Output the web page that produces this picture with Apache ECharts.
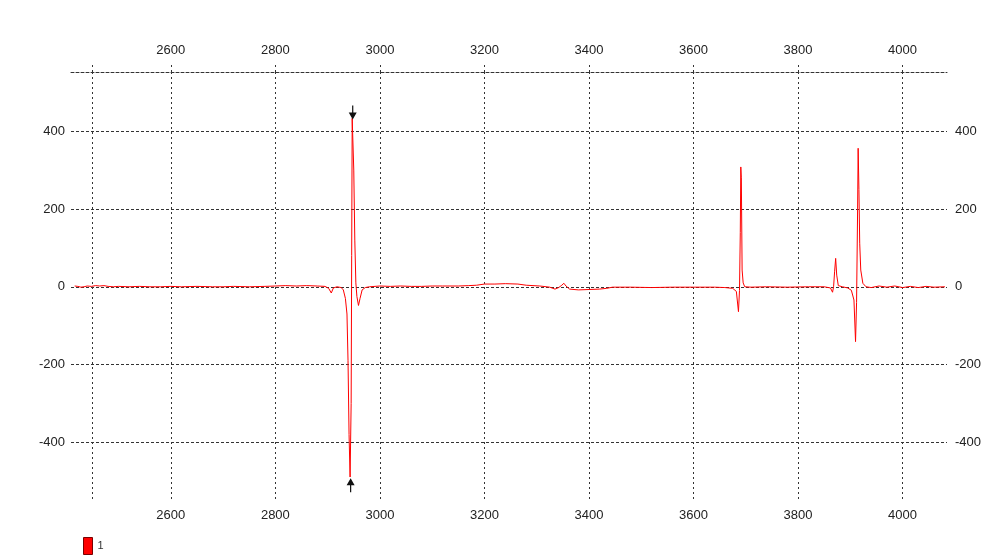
<!DOCTYPE html>
<html>
<head>
<meta charset="utf-8">
<script src="https://cdn.jsdelivr.net/npm/echarts@6/dist/echarts.min.js"></script>
<style>
html,body{margin:0;padding:0;background:#fff;}
#chart{width:985px;height:556px;}
</style>
</head>
<body>
<div id="chart"></div>
<script>
// ---- data ----
const wavenumber = [
  2416, 2422, 2428, 2434, 2440, 2448, 2456, 2464, 2472, 2480, 2490, 2500, 2520, 2540, 2560, 2580,
  2600, 2620, 2650, 2680, 2700, 2720, 2750, 2780, 2800, 2820, 2840, 2860, 2880, 2895, 2902, 2907,
  2911, 2918, 2926, 2930, 2934, 2937, 2939, 2941, 2943, 2945, 2946, 2947, 2948, 2950, 2952, 2954,
  2956, 2959, 2962, 2966, 2972, 2980, 3000, 3020, 3040, 3060, 3080, 3100, 3120, 3150, 3170, 3185,
  3200, 3220, 3240, 3264, 3280, 3306, 3325, 3335, 3342, 3348, 3352, 3356, 3363, 3380, 3400, 3420,
  3434, 3445, 3480, 3520, 3560, 3600, 3640, 3660, 3675, 3682, 3686, 3688, 3689.5, 3690.5, 3691.5, 3693,
  3695, 3698, 3710, 3740, 3780, 3820, 3850, 3862, 3866, 3868, 3870, 3872, 3874, 3877, 3885, 3895,
  3902, 3907, 3910, 3912, 3914, 3915, 3916.5, 3918, 3920, 3924, 3930, 3940, 3955, 3970, 3985, 4000,
  4015, 4030, 4045, 4060, 4081
];
const intensity = [
  2, 1, -1, 0, 2, 1, 3, 2, 3, 1, 0, 1, 0, 1, 0, 0,
  1, 0, 1, 0, 0, 1, 0, 1, 2, 3, 2, 3, 2, 1, -4, -16,
  -3, 0, -2, -8, -30, -70, -190, -380, -489, -300, 80, 433, 433, 300, 120, 10,
  -25, -48, -30, -8, -2, 0, 2, 1, 2, 1, 1, 2, 2, 2, 3, 4,
  7, 7, 8, 7, 4, 2, -1, -6, -2, 4, 9, 2, -6, -8, -7, -6,
  -4, -1, -1, -2, -1, -1, -1, -2, -4, -12, -64, -10, 140, 308, 280, 43,
  10, 0, -1, 0, -1, 0, 0, -3, -14, 0, 40, 73, 30, 3, 0, -3,
  -9, -34, -141, -40, 200, 356, 250, 112, 43, 9, 0, -2, 2, -1, 2, -2,
  1, -2, 1, -1, 0
];
const xTicks = [2600, 2800, 3000, 3200, 3400, 3600, 3800, 4000];
const cursorX = [2449];
const yTicks = [-400, -200, 0, 200, 400];
const seriesName = '1';
const topMarker = [2948, 430];
const bottomMarker = [2944, -492];

// ---- chart ----
const chart = echarts.init(document.getElementById('chart'), null, {renderer: 'canvas'});
const FONT = 'Liberation Sans, Arial, sans-serif';
const gridColor = '#333';
const labelColor = '#222';
const xLimits = {min: 2409, max: 4085};
const yLimits = {min: -548, max: 552};
const plain = v => String(v);

const points = wavenumber.map((w, i) => [w, intensity[i]]);
const vTicks = cursorX.concat(xTicks);

const downArrow = 'path://M3.4,0 H4.6 V7 H8 L4,14 L0,7 H3.4 Z';
const upArrow = 'path://M4,0 L8,7 H4.6 V14 H3.4 V7 H0 Z';

chart.setOption({
  animation: false,
  backgroundColor: '#fff',
  grid: {left: 71, right: 38, top: 72, bottom: 56, containLabel: false},
  legend: {
    left: 83, top: 537, padding: 0,
    icon: 'rect', itemWidth: 9, itemHeight: 17, itemGap: 10,
    itemStyle: {color: '#ff0000', borderColor: '#7a0000', borderWidth: 1},
    textStyle: {fontSize: 11, color: '#333', fontFamily: FONT},
    data: [seriesName]
  },
  xAxis: [
    {
      type: 'value', position: 'bottom', ...xLimits,
      axisLine: {show: false, onZero: false},
      axisTick: {show: false, customValues: vTicks},
      axisLabel: {customValues: xTicks, formatter: plain, margin: 9, color: labelColor, fontSize: 13, fontFamily: FONT},
      splitLine: {show: true, lineStyle: {color: gridColor, width: 1, type: [2, 3]}}
    },
    {
      type: 'value', position: 'top', ...xLimits,
      axisLine: {show: true, onZero: false, lineStyle: {color: gridColor, width: 1, type: [3, 2]}},
      axisTick: {show: true, inside: false, length: 9, customValues: vTicks,
                 lineStyle: {color: gridColor, width: 1, type: [2, 3]}},
      axisLabel: {customValues: xTicks, formatter: plain, margin: 15, color: labelColor, fontSize: 13, fontFamily: FONT},
      splitLine: {show: false}
    }
  ],
  yAxis: [
    {
      type: 'value', position: 'left', ...yLimits,
      axisLine: {show: false, onZero: false},
      axisTick: {show: false, customValues: yTicks},
      axisLabel: {customValues: yTicks, formatter: plain, margin: 6, color: labelColor, fontSize: 13, fontFamily: FONT},
      splitLine: {show: true, lineStyle: {color: gridColor, width: 1, type: [3, 2]}}
    },
    {
      type: 'value', position: 'right', ...yLimits,
      axisLine: {show: false, onZero: false},
      axisTick: {show: false, customValues: yTicks},
      axisLabel: {customValues: yTicks, formatter: plain, margin: 8, color: labelColor, fontSize: 13, fontFamily: FONT},
      splitLine: {show: false}
    }
  ],
  series: [{
    name: seriesName,
    type: 'line',
    xAxisIndex: 0, yAxisIndex: 0,
    data: points,
    showSymbol: false,
    symbol: 'none',
    color: '#ff0000',
    lineStyle: {color: '#ff0000', width: 1},
    itemStyle: {color: '#ff0000'},
    z: 3,
    markPoint: {
      silent: true,
      label: {show: false},
      itemStyle: {color: '#111'},
      data: [
        {coord: topMarker, symbol: downArrow, symbolSize: [8, 14], symbolOffset: [0, -7]},
        {coord: bottomMarker, symbol: upArrow, symbolSize: [8, 14], symbolOffset: [0, 7]}
      ]
    }
  }]
});
</script>
</body>
</html>
